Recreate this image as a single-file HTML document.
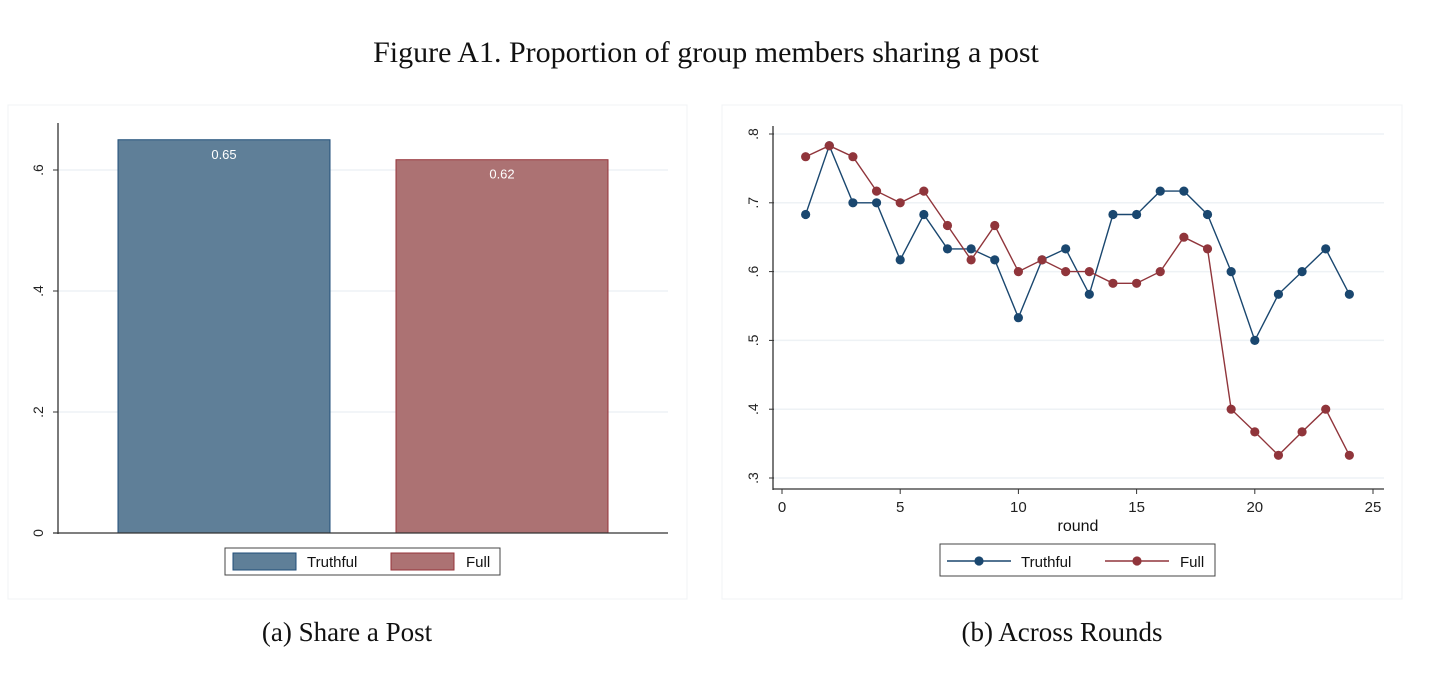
<!DOCTYPE html>
<html><head><meta charset="utf-8"><style>
body{margin:0;background:#fff;width:1448px;height:678px;overflow:hidden}
svg{display:block}
.serif{font-family:"Liberation Serif",serif}
.sans{font-family:"Liberation Sans",sans-serif}
</style></head><body>
<svg id="fig" width="1448" height="678" xmlns="http://www.w3.org/2000/svg">
<text class="serif" x="706" y="62" font-size="30" text-anchor="middle" fill="#111">Figure A1. Proportion of group members sharing a post</text>
<rect x="8" y="105" width="679" height="494" fill="#fff" stroke="#f0f3f5"/>
<rect x="722" y="105" width="680" height="494" fill="#fff" stroke="#f0f3f5"/>
<text class="serif" x="347" y="641" font-size="27" text-anchor="middle" fill="#111">(a) Share a Post</text>
<text class="serif" x="1062" y="641" font-size="27" text-anchor="middle" fill="#111">(b) Across Rounds</text>
<g id="left"></g>
<g id="right"></g>
</svg>
<script>
const barCats=["Truthful","Full"];
const barVals=[0.65,0.617];
const barLabels=["0.65","0.62"];
const leftTicks=[0,0.2,0.4,0.6];
const leftTickLabels=["0",".2",".4",".6"];
const rounds=[1,2,3,4,5,6,7,8,9,10,11,12,13,14,15,16,17,18,19,20,21,22,23,24];
const truthful=[.683,.783,.7,.7,.617,.683,.633,.633,.617,.533,.617,.633,.567,.683,.683,.717,.717,.683,.6,.5,.567,.6,.633,.567];
const full=[.767,.783,.767,.717,.7,.717,.667,.617,.667,.6,.617,.6,.6,.583,.583,.6,.65,.633,.4,.367,.333,.367,.4,.333];
const rightYTicks=[.3,.4,.5,.6,.7,.8];
const rightYLabels=[".3",".4",".5",".6",".7",".8"];
const rightXTicks=[0,5,10,15,20,25];

const NS="http://www.w3.org/2000/svg";
function mk(parent,tag,attrs,text){const e=document.createElementNS(NS,tag);for(const k in attrs)e.setAttribute(k,attrs[k]);if(text!==undefined)e.textContent=text;parent.appendChild(e);return e;}

// left chart
const L=document.getElementById('left');
const ly=v=>533-v*(533-170)/0.6;
leftTicks.forEach((t,i)=>{
  if(t>0){const g=mk(L,'line',{x1:58,x2:668,y1:ly(t),y2:ly(t),stroke:'#eef2f5','stroke-width':1.5});
  }
  const tk=mk(L,'line',{x1:53,x2:58,y1:ly(t),y2:ly(t),stroke:'#333'});
  
  const tx=mk(L,'text',{x:43,y:ly(t),'font-size':14,'text-anchor':'middle',transform:`rotate(-90 43 ${ly(t)})`,class:'sans',fill:'#222'},leftTickLabels[i]);
  
});
const barFill=['#5f7f98','#ac7273'],barStroke=['#1f4e79','#96333a'];
const barX=[118,396],barW=212;
barVals.forEach((v,i)=>{
  const r=mk(L,'rect',{x:barX[i],y:ly(v),width:barW,height:533-ly(v),fill:barFill[i],stroke:barStroke[i],'stroke-width':1});
  
  const t=mk(L,'text',{x:barX[i]+barW/2,y:ly(v)+19,'font-size':13,'text-anchor':'middle',fill:'#fff',class:'sans'},barLabels[i]);
  
});
let a=mk(L,'line',{x1:58,x2:58,y1:123,y2:534,stroke:'#333','stroke-width':1.3});
a=mk(L,'line',{x1:53,x2:668,y1:533,y2:533,stroke:'#333','stroke-width':1.3});
let lg=mk(L,'g',{});
mk(lg,'rect',{x:225,y:548,width:275,height:27,fill:'#fff',stroke:'#444'});
[[233,'Truthful',0,307],[391,'Full',1,466]].forEach(([x,l,i,tx])=>{
  const s=mk(lg,'rect',{x:x,y:553,width:63,height:17,fill:barFill[i],stroke:barStroke[i]});
  
  const t=mk(lg,'text',{x:tx,y:567,'font-size':15,class:'sans',fill:'#111'},l);
  
});

// right chart
const R=document.getElementById('right');
const rx=v=>782+v*(1373-782)/25;
const ry=v=>478-(v-0.3)*(478-134)/0.5;
rightYTicks.forEach((t,i)=>{
  const g=mk(R,'line',{x1:774,x2:1384,y1:ry(t),y2:ry(t),stroke:'#eef2f5','stroke-width':1.5});
  
  const tk=mk(R,'line',{x1:769,x2:774,y1:ry(t),y2:ry(t),stroke:'#333'});
  
  const tx=mk(R,'text',{x:758,y:ry(t),'font-size':14,'text-anchor':'middle',transform:`rotate(-90 758 ${ry(t)})`,class:'sans',fill:'#222'},rightYLabels[i]);
  
});
rightXTicks.forEach(t=>{
  const tk=mk(R,'line',{x1:rx(t),x2:rx(t),y1:489,y2:494,stroke:'#333'});
  
  const tx=mk(R,'text',{x:rx(t),y:512,'font-size':15,'text-anchor':'middle',class:'sans',fill:'#222'},String(t));
  
});
a=mk(R,'line',{x1:773,x2:773,y1:126,y2:490,stroke:'#333','stroke-width':1.3});
a=mk(R,'line',{x1:773,x2:1384,y1:489,y2:489,stroke:'#333','stroke-width':1.3});
a=mk(R,'text',{x:1078,y:531,'font-size':16,'text-anchor':'middle',class:'sans',fill:'#111'},'round');
[[truthful,'#1a476f','truthful'],[full,'#90353b','full']].forEach(([s,c,n])=>{
  const p=mk(R,'polyline',{points:rounds.map((r,i)=>rx(r)+','+ry(s[i])).join(' '),fill:'none',stroke:c,'stroke-width':1.4});
  
  rounds.forEach((r,i)=>{
    const d=mk(R,'circle',{cx:rx(r),cy:ry(s[i]),r:4.6,fill:c});
    
  });
});
lg=mk(R,'g',{});
mk(lg,'rect',{x:940,y:544,width:275,height:32,fill:'#fff',stroke:'#444'});
[[947,'Truthful','#1a476f',1021],[1105,'Full','#90353b',1180]].forEach(([x,l,c,tx])=>{
  const s=mk(lg,'line',{x1:x,x2:x+64,y1:561,y2:561,stroke:c,'stroke-width':1.4});
  
  const d=mk(lg,'circle',{cx:x+32,cy:561,r:4.6,fill:c});
  
  const t=mk(lg,'text',{x:tx,y:567,'font-size':15,class:'sans',fill:'#111'},l);
  
});
</script>
</body></html>
